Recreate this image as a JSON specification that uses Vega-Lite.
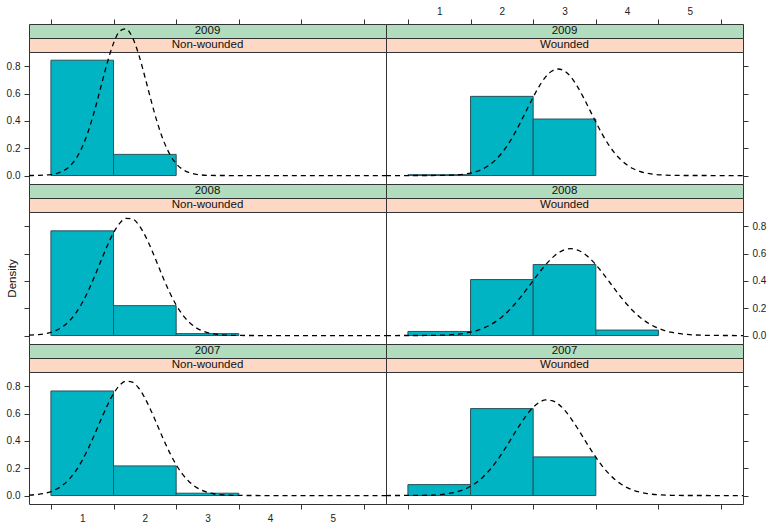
{
  "$schema": "https://vega.github.io/schema/vega-lite/v6.json",
  "background": "white",
  "padding": 5,
  "config": {
    "view": {"stroke": "#333", "strokeWidth": 1},
    "axis": {"domain": false, "grid": false, "tickColor": "#333", "tickSize": 5, "labelFont": "Liberation Sans", "labelFontSize": 10, "labelColor": "#222", "labelFlush": false, "labelOverlap": false, "titleFont": "Liberation Sans", "titleFontSize": 11.5, "titleFontWeight": "normal", "titleColor": "#111"},
    "text": {"font": "Liberation Sans", "fontSize": 11.5, "color": "#111"}
  },
  "datasets": {
    "bars": [
      {"year": 2009, "group": "Non-wounded", "lo": 0.5, "hi": 1.5, "density": 0.845},
      {"year": 2009, "group": "Non-wounded", "lo": 1.5, "hi": 2.5, "density": 0.155},
      {"year": 2009, "group": "Wounded", "lo": 0.5, "hi": 1.5, "density": 0.006},
      {"year": 2009, "group": "Wounded", "lo": 1.5, "hi": 2.5, "density": 0.58},
      {"year": 2009, "group": "Wounded", "lo": 2.5, "hi": 3.5, "density": 0.414},
      {"year": 2008, "group": "Non-wounded", "lo": 0.5, "hi": 1.5, "density": 0.767},
      {"year": 2008, "group": "Non-wounded", "lo": 1.5, "hi": 2.5, "density": 0.219},
      {"year": 2008, "group": "Non-wounded", "lo": 2.5, "hi": 3.5, "density": 0.014},
      {"year": 2008, "group": "Wounded", "lo": 0.5, "hi": 1.5, "density": 0.03},
      {"year": 2008, "group": "Wounded", "lo": 1.5, "hi": 2.5, "density": 0.41},
      {"year": 2008, "group": "Wounded", "lo": 2.5, "hi": 3.5, "density": 0.52},
      {"year": 2008, "group": "Wounded", "lo": 3.5, "hi": 4.5, "density": 0.04},
      {"year": 2007, "group": "Non-wounded", "lo": 0.5, "hi": 1.5, "density": 0.766},
      {"year": 2007, "group": "Non-wounded", "lo": 1.5, "hi": 2.5, "density": 0.217},
      {"year": 2007, "group": "Non-wounded", "lo": 2.5, "hi": 3.5, "density": 0.017},
      {"year": 2007, "group": "Wounded", "lo": 0.5, "hi": 1.5, "density": 0.08},
      {"year": 2007, "group": "Wounded", "lo": 1.5, "hi": 2.5, "density": 0.637},
      {"year": 2007, "group": "Wounded", "lo": 2.5, "hi": 3.5, "density": 0.283}
    ],
    "curve": [
      {"year": 2009, "group": "Non-wounded", "x": 0.15, "density": 0.0002},
      {"year": 2009, "group": "Non-wounded", "x": 0.3, "density": 0.0011},
      {"year": 2009, "group": "Non-wounded", "x": 0.4, "density": 0.003},
      {"year": 2009, "group": "Non-wounded", "x": 0.5, "density": 0.0073},
      {"year": 2009, "group": "Non-wounded", "x": 0.6, "density": 0.0165},
      {"year": 2009, "group": "Non-wounded", "x": 0.7, "density": 0.0347},
      {"year": 2009, "group": "Non-wounded", "x": 0.8, "density": 0.0679},
      {"year": 2009, "group": "Non-wounded", "x": 0.9, "density": 0.1237},
      {"year": 2009, "group": "Non-wounded", "x": 1.0, "density": 0.209},
      {"year": 2009, "group": "Non-wounded", "x": 1.1, "density": 0.329},
      {"year": 2009, "group": "Non-wounded", "x": 1.2, "density": 0.481},
      {"year": 2009, "group": "Non-wounded", "x": 1.3, "density": 0.654},
      {"year": 2009, "group": "Non-wounded", "x": 1.4, "density": 0.826},
      {"year": 2009, "group": "Non-wounded", "x": 1.5, "density": 0.970},
      {"year": 2009, "group": "Non-wounded", "x": 1.6, "density": 1.059},
      {"year": 2009, "group": "Non-wounded", "x": 1.7, "density": 1.074},
      {"year": 2009, "group": "Non-wounded", "x": 1.8, "density": 1.013},
      {"year": 2009, "group": "Non-wounded", "x": 1.9, "density": 0.889},
      {"year": 2009, "group": "Non-wounded", "x": 2.0, "density": 0.724},
      {"year": 2009, "group": "Non-wounded", "x": 2.1, "density": 0.549},
      {"year": 2009, "group": "Non-wounded", "x": 2.2, "density": 0.386},
      {"year": 2009, "group": "Non-wounded", "x": 2.3, "density": 0.253},
      {"year": 2009, "group": "Non-wounded", "x": 2.4, "density": 0.154},
      {"year": 2009, "group": "Non-wounded", "x": 2.5, "density": 0.0871},
      {"year": 2009, "group": "Non-wounded", "x": 2.6, "density": 0.0458},
      {"year": 2009, "group": "Non-wounded", "x": 2.7, "density": 0.0224},
      {"year": 2009, "group": "Non-wounded", "x": 2.8, "density": 0.0102},
      {"year": 2009, "group": "Non-wounded", "x": 2.9, "density": 0.0043},
      {"year": 2009, "group": "Non-wounded", "x": 3.0, "density": 0.0017},
      {"year": 2009, "group": "Non-wounded", "x": 3.2, "density": 0.0002},
      {"year": 2009, "group": "Non-wounded", "x": 3.5, "density": 0},
      {"year": 2009, "group": "Non-wounded", "x": 5.85, "density": 0},

      {"year": 2009, "group": "Wounded", "x": 0.15, "density": 0},
      {"year": 2009, "group": "Wounded", "x": 0.8, "density": 0.0002},
      {"year": 2009, "group": "Wounded", "x": 1.0, "density": 0.0008},
      {"year": 2009, "group": "Wounded", "x": 1.2, "density": 0.0031},
      {"year": 2009, "group": "Wounded", "x": 1.4, "density": 0.0105},
      {"year": 2009, "group": "Wounded", "x": 1.5, "density": 0.0183},
      {"year": 2009, "group": "Wounded", "x": 1.6, "density": 0.0307},
      {"year": 2009, "group": "Wounded", "x": 1.7, "density": 0.0495},
      {"year": 2009, "group": "Wounded", "x": 1.8, "density": 0.077},
      {"year": 2009, "group": "Wounded", "x": 1.9, "density": 0.115},
      {"year": 2009, "group": "Wounded", "x": 2.0, "density": 0.1655},
      {"year": 2009, "group": "Wounded", "x": 2.1, "density": 0.229},
      {"year": 2009, "group": "Wounded", "x": 2.2, "density": 0.3055},
      {"year": 2009, "group": "Wounded", "x": 2.3, "density": 0.392},
      {"year": 2009, "group": "Wounded", "x": 2.4, "density": 0.4837},
      {"year": 2009, "group": "Wounded", "x": 2.5, "density": 0.5746},
      {"year": 2009, "group": "Wounded", "x": 2.6, "density": 0.657},
      {"year": 2009, "group": "Wounded", "x": 2.7, "density": 0.723},
      {"year": 2009, "group": "Wounded", "x": 2.8, "density": 0.7658},
      {"year": 2009, "group": "Wounded", "x": 2.9, "density": 0.7806},
      {"year": 2009, "group": "Wounded", "x": 3.0, "density": 0.7658},
      {"year": 2009, "group": "Wounded", "x": 3.1, "density": 0.723},
      {"year": 2009, "group": "Wounded", "x": 3.2, "density": 0.657},
      {"year": 2009, "group": "Wounded", "x": 3.3, "density": 0.5746},
      {"year": 2009, "group": "Wounded", "x": 3.4, "density": 0.4837},
      {"year": 2009, "group": "Wounded", "x": 3.5, "density": 0.392},
      {"year": 2009, "group": "Wounded", "x": 3.6, "density": 0.3055},
      {"year": 2009, "group": "Wounded", "x": 3.7, "density": 0.229},
      {"year": 2009, "group": "Wounded", "x": 3.8, "density": 0.1655},
      {"year": 2009, "group": "Wounded", "x": 3.9, "density": 0.115},
      {"year": 2009, "group": "Wounded", "x": 4.0, "density": 0.077},
      {"year": 2009, "group": "Wounded", "x": 4.1, "density": 0.0495},
      {"year": 2009, "group": "Wounded", "x": 4.2, "density": 0.0307},
      {"year": 2009, "group": "Wounded", "x": 4.3, "density": 0.0183},
      {"year": 2009, "group": "Wounded", "x": 4.4, "density": 0.0105},
      {"year": 2009, "group": "Wounded", "x": 4.6, "density": 0.0031},
      {"year": 2009, "group": "Wounded", "x": 4.8, "density": 0.0008},
      {"year": 2009, "group": "Wounded", "x": 5.0, "density": 0.0002},
      {"year": 2009, "group": "Wounded", "x": 5.85, "density": 0},

      {"year": 2008, "group": "Non-wounded", "x": 0.15, "density": 0.0024},
      {"year": 2008, "group": "Non-wounded", "x": 0.3, "density": 0.0068},
      {"year": 2008, "group": "Non-wounded", "x": 0.4, "density": 0.0131},
      {"year": 2008, "group": "Non-wounded", "x": 0.5, "density": 0.0239},
      {"year": 2008, "group": "Non-wounded", "x": 0.6, "density": 0.0416},
      {"year": 2008, "group": "Non-wounded", "x": 0.7, "density": 0.0691},
      {"year": 2008, "group": "Non-wounded", "x": 0.8, "density": 0.1097},
      {"year": 2008, "group": "Non-wounded", "x": 0.9, "density": 0.1661},
      {"year": 2008, "group": "Non-wounded", "x": 1.0, "density": 0.2402},
      {"year": 2008, "group": "Non-wounded", "x": 1.1, "density": 0.3315},
      {"year": 2008, "group": "Non-wounded", "x": 1.2, "density": 0.4364},
      {"year": 2008, "group": "Non-wounded", "x": 1.3, "density": 0.5485},
      {"year": 2008, "group": "Non-wounded", "x": 1.4, "density": 0.6579},
      {"year": 2008, "group": "Non-wounded", "x": 1.5, "density": 0.7532},
      {"year": 2008, "group": "Non-wounded", "x": 1.6, "density": 0.8231},
      {"year": 2008, "group": "Non-wounded", "x": 1.7, "density": 0.8584},
      {"year": 2008, "group": "Non-wounded", "x": 1.8, "density": 0.8544},
      {"year": 2008, "group": "Non-wounded", "x": 1.9, "density": 0.8116},
      {"year": 2008, "group": "Non-wounded", "x": 2.0, "density": 0.7359},
      {"year": 2008, "group": "Non-wounded", "x": 2.1, "density": 0.6368},
      {"year": 2008, "group": "Non-wounded", "x": 2.2, "density": 0.5259},
      {"year": 2008, "group": "Non-wounded", "x": 2.3, "density": 0.4146},
      {"year": 2008, "group": "Non-wounded", "x": 2.4, "density": 0.3119},
      {"year": 2008, "group": "Non-wounded", "x": 2.5, "density": 0.2239},
      {"year": 2008, "group": "Non-wounded", "x": 2.6, "density": 0.1535},
      {"year": 2008, "group": "Non-wounded", "x": 2.7, "density": 0.1004},
      {"year": 2008, "group": "Non-wounded", "x": 2.8, "density": 0.0627},
      {"year": 2008, "group": "Non-wounded", "x": 2.9, "density": 0.0373},
      {"year": 2008, "group": "Non-wounded", "x": 3.0, "density": 0.0212},
      {"year": 2008, "group": "Non-wounded", "x": 3.1, "density": 0.0115},
      {"year": 2008, "group": "Non-wounded", "x": 3.2, "density": 0.006},
      {"year": 2008, "group": "Non-wounded", "x": 3.4, "density": 0.0014},
      {"year": 2008, "group": "Non-wounded", "x": 3.6, "density": 0.0003},
      {"year": 2008, "group": "Non-wounded", "x": 4.0, "density": 0},
      {"year": 2008, "group": "Non-wounded", "x": 5.85, "density": 0},

      {"year": 2008, "group": "Wounded", "x": 0.15, "density": 0},
      {"year": 2008, "group": "Wounded", "x": 0.7, "density": 0.0004},
      {"year": 2008, "group": "Wounded", "x": 0.9, "density": 0.0013},
      {"year": 2008, "group": "Wounded", "x": 1.1, "density": 0.0039},
      {"year": 2008, "group": "Wounded", "x": 1.2, "density": 0.0065},
      {"year": 2008, "group": "Wounded", "x": 1.3, "density": 0.0103},
      {"year": 2008, "group": "Wounded", "x": 1.4, "density": 0.0161},
      {"year": 2008, "group": "Wounded", "x": 1.5, "density": 0.0245},
      {"year": 2008, "group": "Wounded", "x": 1.6, "density": 0.0364},
      {"year": 2008, "group": "Wounded", "x": 1.7, "density": 0.0526},
      {"year": 2008, "group": "Wounded", "x": 1.8, "density": 0.0742},
      {"year": 2008, "group": "Wounded", "x": 1.9, "density": 0.1019},
      {"year": 2008, "group": "Wounded", "x": 2.0, "density": 0.1365},
      {"year": 2008, "group": "Wounded", "x": 2.1, "density": 0.1783},
      {"year": 2008, "group": "Wounded", "x": 2.2, "density": 0.2271},
      {"year": 2008, "group": "Wounded", "x": 2.3, "density": 0.2819},
      {"year": 2008, "group": "Wounded", "x": 2.4, "density": 0.3411},
      {"year": 2008, "group": "Wounded", "x": 2.5, "density": 0.4025},
      {"year": 2008, "group": "Wounded", "x": 2.6, "density": 0.4629},
      {"year": 2008, "group": "Wounded", "x": 2.7, "density": 0.5191},
      {"year": 2008, "group": "Wounded", "x": 2.8, "density": 0.5674},
      {"year": 2008, "group": "Wounded", "x": 2.9, "density": 0.6047},
      {"year": 2008, "group": "Wounded", "x": 3.0, "density": 0.6282},
      {"year": 2008, "group": "Wounded", "x": 3.1, "density": 0.6362},
      {"year": 2008, "group": "Wounded", "x": 3.2, "density": 0.6282},
      {"year": 2008, "group": "Wounded", "x": 3.3, "density": 0.6047},
      {"year": 2008, "group": "Wounded", "x": 3.4, "density": 0.5674},
      {"year": 2008, "group": "Wounded", "x": 3.5, "density": 0.5191},
      {"year": 2008, "group": "Wounded", "x": 3.6, "density": 0.4629},
      {"year": 2008, "group": "Wounded", "x": 3.7, "density": 0.4025},
      {"year": 2008, "group": "Wounded", "x": 3.8, "density": 0.3411},
      {"year": 2008, "group": "Wounded", "x": 3.9, "density": 0.2819},
      {"year": 2008, "group": "Wounded", "x": 4.0, "density": 0.2271},
      {"year": 2008, "group": "Wounded", "x": 4.1, "density": 0.1783},
      {"year": 2008, "group": "Wounded", "x": 4.2, "density": 0.1365},
      {"year": 2008, "group": "Wounded", "x": 4.3, "density": 0.1019},
      {"year": 2008, "group": "Wounded", "x": 4.4, "density": 0.0742},
      {"year": 2008, "group": "Wounded", "x": 4.5, "density": 0.0526},
      {"year": 2008, "group": "Wounded", "x": 4.6, "density": 0.0364},
      {"year": 2008, "group": "Wounded", "x": 4.7, "density": 0.0245},
      {"year": 2008, "group": "Wounded", "x": 4.8, "density": 0.0161},
      {"year": 2008, "group": "Wounded", "x": 4.9, "density": 0.0103},
      {"year": 2008, "group": "Wounded", "x": 5.0, "density": 0.0065},
      {"year": 2008, "group": "Wounded", "x": 5.1, "density": 0.0039},
      {"year": 2008, "group": "Wounded", "x": 5.3, "density": 0.0013},
      {"year": 2008, "group": "Wounded", "x": 5.5, "density": 0.0004},
      {"year": 2008, "group": "Wounded", "x": 5.85, "density": 0},

      {"year": 2007, "group": "Non-wounded", "x": 0.15, "density": 0.0033},
      {"year": 2007, "group": "Non-wounded", "x": 0.3, "density": 0.009},
      {"year": 2007, "group": "Non-wounded", "x": 0.4, "density": 0.0167},
      {"year": 2007, "group": "Non-wounded", "x": 0.5, "density": 0.0294},
      {"year": 2007, "group": "Non-wounded", "x": 0.6, "density": 0.0495},
      {"year": 2007, "group": "Non-wounded", "x": 0.7, "density": 0.08},
      {"year": 2007, "group": "Non-wounded", "x": 0.8, "density": 0.1235},
      {"year": 2007, "group": "Non-wounded", "x": 0.9, "density": 0.1825},
      {"year": 2007, "group": "Non-wounded", "x": 1.0, "density": 0.2578},
      {"year": 2007, "group": "Non-wounded", "x": 1.1, "density": 0.3485},
      {"year": 2007, "group": "Non-wounded", "x": 1.2, "density": 0.4506},
      {"year": 2007, "group": "Non-wounded", "x": 1.3, "density": 0.5575},
      {"year": 2007, "group": "Non-wounded", "x": 1.4, "density": 0.6597},
      {"year": 2007, "group": "Non-wounded", "x": 1.5, "density": 0.7469},
      {"year": 2007, "group": "Non-wounded", "x": 1.6, "density": 0.8089},
      {"year": 2007, "group": "Non-wounded", "x": 1.7, "density": 0.8381},
      {"year": 2007, "group": "Non-wounded", "x": 1.8, "density": 0.8307},
      {"year": 2007, "group": "Non-wounded", "x": 1.9, "density": 0.7877},
      {"year": 2007, "group": "Non-wounded", "x": 2.0, "density": 0.7145},
      {"year": 2007, "group": "Non-wounded", "x": 2.1, "density": 0.62},
      {"year": 2007, "group": "Non-wounded", "x": 2.2, "density": 0.5148},
      {"year": 2007, "group": "Non-wounded", "x": 2.3, "density": 0.4088},
      {"year": 2007, "group": "Non-wounded", "x": 2.4, "density": 0.3106},
      {"year": 2007, "group": "Non-wounded", "x": 2.5, "density": 0.2257},
      {"year": 2007, "group": "Non-wounded", "x": 2.6, "density": 0.157},
      {"year": 2007, "group": "Non-wounded", "x": 2.7, "density": 0.1044},
      {"year": 2007, "group": "Non-wounded", "x": 2.8, "density": 0.0664},
      {"year": 2007, "group": "Non-wounded", "x": 2.9, "density": 0.0404},
      {"year": 2007, "group": "Non-wounded", "x": 3.0, "density": 0.0235},
      {"year": 2007, "group": "Non-wounded", "x": 3.1, "density": 0.0131},
      {"year": 2007, "group": "Non-wounded", "x": 3.2, "density": 0.007},
      {"year": 2007, "group": "Non-wounded", "x": 3.4, "density": 0.0017},
      {"year": 2007, "group": "Non-wounded", "x": 3.6, "density": 0.0004},
      {"year": 2007, "group": "Non-wounded", "x": 4.0, "density": 0},
      {"year": 2007, "group": "Non-wounded", "x": 5.85, "density": 0},

      {"year": 2007, "group": "Wounded", "x": 0.15, "density": 0},
      {"year": 2007, "group": "Wounded", "x": 0.8, "density": 0.0022},
      {"year": 2007, "group": "Wounded", "x": 1.0, "density": 0.0069},
      {"year": 2007, "group": "Wounded", "x": 1.1, "density": 0.0116},
      {"year": 2007, "group": "Wounded", "x": 1.2, "density": 0.0189},
      {"year": 2007, "group": "Wounded", "x": 1.3, "density": 0.0298},
      {"year": 2007, "group": "Wounded", "x": 1.4, "density": 0.0456},
      {"year": 2007, "group": "Wounded", "x": 1.5, "density": 0.0678},
      {"year": 2007, "group": "Wounded", "x": 1.6, "density": 0.0976},
      {"year": 2007, "group": "Wounded", "x": 1.7, "density": 0.1362},
      {"year": 2007, "group": "Wounded", "x": 1.8, "density": 0.1843},
      {"year": 2007, "group": "Wounded", "x": 1.9, "density": 0.242},
      {"year": 2007, "group": "Wounded", "x": 2.0, "density": 0.3079},
      {"year": 2007, "group": "Wounded", "x": 2.1, "density": 0.3798},
      {"year": 2007, "group": "Wounded", "x": 2.2, "density": 0.4544},
      {"year": 2007, "group": "Wounded", "x": 2.3, "density": 0.527},
      {"year": 2007, "group": "Wounded", "x": 2.4, "density": 0.5926},
      {"year": 2007, "group": "Wounded", "x": 2.5, "density": 0.6461},
      {"year": 2007, "group": "Wounded", "x": 2.6, "density": 0.683},
      {"year": 2007, "group": "Wounded", "x": 2.7, "density": 0.7001},
      {"year": 2007, "group": "Wounded", "x": 2.8, "density": 0.6958},
      {"year": 2007, "group": "Wounded", "x": 2.9, "density": 0.6705},
      {"year": 2007, "group": "Wounded", "x": 3.0, "density": 0.6264},
      {"year": 2007, "group": "Wounded", "x": 3.1, "density": 0.5675},
      {"year": 2007, "group": "Wounded", "x": 3.2, "density": 0.4984},
      {"year": 2007, "group": "Wounded", "x": 3.3, "density": 0.4244},
      {"year": 2007, "group": "Wounded", "x": 3.4, "density": 0.3505},
      {"year": 2007, "group": "Wounded", "x": 3.5, "density": 0.2806},
      {"year": 2007, "group": "Wounded", "x": 3.6, "density": 0.2178},
      {"year": 2007, "group": "Wounded", "x": 3.7, "density": 0.1639},
      {"year": 2007, "group": "Wounded", "x": 3.8, "density": 0.1197},
      {"year": 2007, "group": "Wounded", "x": 3.9, "density": 0.0846},
      {"year": 2007, "group": "Wounded", "x": 4.0, "density": 0.058},
      {"year": 2007, "group": "Wounded", "x": 4.1, "density": 0.0386},
      {"year": 2007, "group": "Wounded", "x": 4.2, "density": 0.0249},
      {"year": 2007, "group": "Wounded", "x": 4.3, "density": 0.0156},
      {"year": 2007, "group": "Wounded", "x": 4.4, "density": 0.0094},
      {"year": 2007, "group": "Wounded", "x": 4.5, "density": 0.0056},
      {"year": 2007, "group": "Wounded", "x": 4.7, "density": 0.0018},
      {"year": 2007, "group": "Wounded", "x": 5.0, "density": 0.0002},
      {"year": 2007, "group": "Wounded", "x": 5.85, "density": 0}
    ]
  },
  "columns": 2,
  "spacing": 0,
  "bounds": "flush",
  "align": "each",
  "concat": [
    {"width": 357, "height": 14, "data": {"values": [{"label": "2009"}]}, "view": {"fill": "#b2dcbe", "stroke": "#333"},
     "mark": {"type": "text"},
     "encoding": {"text": {"field": "label"},
       "x": {"datum": 3, "type": "quantitative", "scale": {"domain": [0.15, 5.85], "nice": false, "zero": false},
             "axis": {"orient": "top", "values": [0.5, 1, 1.5, 2, 2.5, 3, 3.5, 4, 4.5, 5, 5.5], "labels": false, "title": null,
                      "tickOpacity": {"condition": {"test": "datum.value % 1 === 0", "value": 0}, "value": 1}}}}},
    {"width": 357, "height": 14, "data": {"values": [{"label": "2009"}]}, "view": {"fill": "#b2dcbe", "stroke": "#333"},
     "mark": {"type": "text"},
     "encoding": {"text": {"field": "label"},
       "x": {"datum": 3, "type": "quantitative", "scale": {"domain": [0.15, 5.85], "nice": false, "zero": false},
             "axis": {"orient": "top", "values": [0.5, 1, 1.5, 2, 2.5, 3, 3.5, 4, 4.5, 5, 5.5], "title": null, "labelPadding": 3,
                      "labelExpr": "datum.value % 1 === 0 ? format(datum.value, 'd') : ''",
                      "tickOpacity": {"condition": {"test": "datum.value % 1 === 0", "value": 0}, "value": 1}}}}},
    {"width": 357, "height": 14, "data": {"values": [{"label": "Non-wounded"}]}, "view": {"fill": "#fdd8c4", "stroke": "#333"},
     "mark": {"type": "text"}, "encoding": {"text": {"field": "label"}}},
    {"width": 357, "height": 14, "data": {"values": [{"label": "Wounded"}]}, "view": {"fill": "#fdd8c4", "stroke": "#333"},
     "mark": {"type": "text"}, "encoding": {"text": {"field": "label"}}},
    {"width": 357, "height": 132, "view": {"stroke": "#333"},
     "layer": [
       {"data": {"name": "bars"}, "transform": [{"filter": "datum.year == 2009 && datum.group == 'Non-wounded'"}],
        "mark": {"type": "rect", "fill": "#00b4c4", "stroke": "#2a5258", "strokeWidth": 1},
        "encoding": {
          "x": {"field": "lo", "type": "quantitative", "scale": {"domain": [0.15, 5.85], "nice": false, "zero": false}, "axis": null},
          "x2": {"field": "hi"},
          "y": {"field": "density", "type": "quantitative", "scale": {"domain": [-0.062, 0.905], "nice": false, "zero": false},
                "axis": {"orient": "left", "values": [0, 0.2, 0.4, 0.6, 0.8], "format": ".1f", "labelPadding": 4, "title": null}},
          "y2": {"datum": 0}}},
       {"data": {"name": "curve"}, "transform": [{"filter": "datum.year == 2009 && datum.group == 'Non-wounded'"}],
        "mark": {"type": "line", "color": "#000", "strokeWidth": 1.3, "strokeDash": [5, 4], "interpolate": "monotone", "clip": false},
        "encoding": {
          "x": {"field": "x", "type": "quantitative", "scale": {"domain": [0.15, 5.85], "nice": false, "zero": false}, "axis": null},
          "y": {"field": "density", "type": "quantitative", "scale": {"domain": [-0.062, 0.905], "nice": false, "zero": false},
                "axis": {"orient": "left", "values": [0, 0.2, 0.4, 0.6, 0.8], "format": ".1f", "labelPadding": 4, "title": null}}}}
     ]},
    {"width": 357, "height": 132, "view": {"stroke": "#333"},
     "layer": [
       {"data": {"name": "bars"}, "transform": [{"filter": "datum.year == 2009 && datum.group == 'Wounded'"}],
        "mark": {"type": "rect", "fill": "#00b4c4", "stroke": "#2a5258", "strokeWidth": 1},
        "encoding": {
          "x": {"field": "lo", "type": "quantitative", "scale": {"domain": [0.15, 5.85], "nice": false, "zero": false}, "axis": null},
          "x2": {"field": "hi"},
          "y": {"field": "density", "type": "quantitative", "scale": {"domain": [-0.062, 0.905], "nice": false, "zero": false},
                "axis": {"orient": "right", "values": [0, 0.2, 0.4, 0.6, 0.8], "labels": false, "title": null}},
          "y2": {"datum": 0}}},
       {"data": {"name": "curve"}, "transform": [{"filter": "datum.year == 2009 && datum.group == 'Wounded'"}],
        "mark": {"type": "line", "color": "#000", "strokeWidth": 1.3, "strokeDash": [5, 4], "interpolate": "monotone", "clip": false},
        "encoding": {
          "x": {"field": "x", "type": "quantitative", "scale": {"domain": [0.15, 5.85], "nice": false, "zero": false}, "axis": null},
          "y": {"field": "density", "type": "quantitative", "scale": {"domain": [-0.062, 0.905], "nice": false, "zero": false},
                "axis": {"orient": "right", "values": [0, 0.2, 0.4, 0.6, 0.8], "labels": false, "title": null}}}}
     ]},

    {"width": 357, "height": 14, "data": {"values": [{"label": "2008"}]}, "view": {"fill": "#b2dcbe", "stroke": "#333"},
     "mark": {"type": "text"}, "encoding": {"text": {"field": "label"}}},
    {"width": 357, "height": 14, "data": {"values": [{"label": "2008"}]}, "view": {"fill": "#b2dcbe", "stroke": "#333"},
     "mark": {"type": "text"}, "encoding": {"text": {"field": "label"}}},
    {"width": 357, "height": 14, "data": {"values": [{"label": "Non-wounded"}]}, "view": {"fill": "#fdd8c4", "stroke": "#333"},
     "mark": {"type": "text"}, "encoding": {"text": {"field": "label"}}},
    {"width": 357, "height": 14, "data": {"values": [{"label": "Wounded"}]}, "view": {"fill": "#fdd8c4", "stroke": "#333"},
     "mark": {"type": "text"}, "encoding": {"text": {"field": "label"}}},
    {"width": 357, "height": 132, "view": {"stroke": "#333"},
     "layer": [
       {"data": {"name": "bars"}, "transform": [{"filter": "datum.year == 2008 && datum.group == 'Non-wounded'"}],
        "mark": {"type": "rect", "fill": "#00b4c4", "stroke": "#2a5258", "strokeWidth": 1},
        "encoding": {
          "x": {"field": "lo", "type": "quantitative", "scale": {"domain": [0.15, 5.85], "nice": false, "zero": false}, "axis": null},
          "x2": {"field": "hi"},
          "y": {"field": "density", "type": "quantitative", "scale": {"domain": [-0.062, 0.905], "nice": false, "zero": false},
                "axis": {"orient": "left", "values": [0, 0.2, 0.4, 0.6, 0.8], "labels": false, "title": "Density", "titlePadding": 6.5}},
          "y2": {"datum": 0}}},
       {"data": {"name": "curve"}, "transform": [{"filter": "datum.year == 2008 && datum.group == 'Non-wounded'"}],
        "mark": {"type": "line", "color": "#000", "strokeWidth": 1.3, "strokeDash": [5, 4], "interpolate": "monotone", "clip": false},
        "encoding": {
          "x": {"field": "x", "type": "quantitative", "scale": {"domain": [0.15, 5.85], "nice": false, "zero": false}, "axis": null},
          "y": {"field": "density", "type": "quantitative", "scale": {"domain": [-0.062, 0.905], "nice": false, "zero": false},
                "axis": {"orient": "left", "values": [0, 0.2, 0.4, 0.6, 0.8], "labels": false, "title": "Density", "titlePadding": 6.5}}}}
     ]},
    {"width": 357, "height": 132, "view": {"stroke": "#333"},
     "layer": [
       {"data": {"name": "bars"}, "transform": [{"filter": "datum.year == 2008 && datum.group == 'Wounded'"}],
        "mark": {"type": "rect", "fill": "#00b4c4", "stroke": "#2a5258", "strokeWidth": 1},
        "encoding": {
          "x": {"field": "lo", "type": "quantitative", "scale": {"domain": [0.15, 5.85], "nice": false, "zero": false}, "axis": null},
          "x2": {"field": "hi"},
          "y": {"field": "density", "type": "quantitative", "scale": {"domain": [-0.062, 0.905], "nice": false, "zero": false},
                "axis": {"orient": "right", "values": [0, 0.2, 0.4, 0.6, 0.8], "format": ".1f", "labelPadding": 4, "title": null}},
          "y2": {"datum": 0}}},
       {"data": {"name": "curve"}, "transform": [{"filter": "datum.year == 2008 && datum.group == 'Wounded'"}],
        "mark": {"type": "line", "color": "#000", "strokeWidth": 1.3, "strokeDash": [5, 4], "interpolate": "monotone", "clip": false},
        "encoding": {
          "x": {"field": "x", "type": "quantitative", "scale": {"domain": [0.15, 5.85], "nice": false, "zero": false}, "axis": null},
          "y": {"field": "density", "type": "quantitative", "scale": {"domain": [-0.062, 0.905], "nice": false, "zero": false},
                "axis": {"orient": "right", "values": [0, 0.2, 0.4, 0.6, 0.8], "format": ".1f", "labelPadding": 4, "title": null}}}}
     ]},

    {"width": 357, "height": 14, "data": {"values": [{"label": "2007"}]}, "view": {"fill": "#b2dcbe", "stroke": "#333"},
     "mark": {"type": "text"}, "encoding": {"text": {"field": "label"}}},
    {"width": 357, "height": 14, "data": {"values": [{"label": "2007"}]}, "view": {"fill": "#b2dcbe", "stroke": "#333"},
     "mark": {"type": "text"}, "encoding": {"text": {"field": "label"}}},
    {"width": 357, "height": 14, "data": {"values": [{"label": "Non-wounded"}]}, "view": {"fill": "#fdd8c4", "stroke": "#333"},
     "mark": {"type": "text"}, "encoding": {"text": {"field": "label"}}},
    {"width": 357, "height": 14, "data": {"values": [{"label": "Wounded"}]}, "view": {"fill": "#fdd8c4", "stroke": "#333"},
     "mark": {"type": "text"}, "encoding": {"text": {"field": "label"}}},
    {"width": 357, "height": 132, "view": {"stroke": "#333"},
     "layer": [
       {"data": {"name": "bars"}, "transform": [{"filter": "datum.year == 2007 && datum.group == 'Non-wounded'"}],
        "mark": {"type": "rect", "fill": "#00b4c4", "stroke": "#2a5258", "strokeWidth": 1},
        "encoding": {
          "x": {"field": "lo", "type": "quantitative", "scale": {"domain": [0.15, 5.85], "nice": false, "zero": false},
                "axis": {"orient": "bottom", "values": [0.5, 1, 1.5, 2, 2.5, 3, 3.5, 4, 4.5, 5, 5.5], "title": null, "labelPadding": 4,
                         "labelExpr": "datum.value % 1 === 0 ? format(datum.value, 'd') : ''",
                         "tickOpacity": {"condition": {"test": "datum.value % 1 === 0", "value": 0}, "value": 1}}},
          "x2": {"field": "hi"},
          "y": {"field": "density", "type": "quantitative", "scale": {"domain": [-0.062, 0.905], "nice": false, "zero": false},
                "axis": {"orient": "left", "values": [0, 0.2, 0.4, 0.6, 0.8], "format": ".1f", "labelPadding": 4, "title": null}},
          "y2": {"datum": 0}}},
       {"data": {"name": "curve"}, "transform": [{"filter": "datum.year == 2007 && datum.group == 'Non-wounded'"}],
        "mark": {"type": "line", "color": "#000", "strokeWidth": 1.3, "strokeDash": [5, 4], "interpolate": "monotone", "clip": false},
        "encoding": {
          "x": {"field": "x", "type": "quantitative", "scale": {"domain": [0.15, 5.85], "nice": false, "zero": false},
                "axis": {"orient": "bottom", "values": [0.5, 1, 1.5, 2, 2.5, 3, 3.5, 4, 4.5, 5, 5.5], "title": null, "labelPadding": 4,
                         "labelExpr": "datum.value % 1 === 0 ? format(datum.value, 'd') : ''",
                         "tickOpacity": {"condition": {"test": "datum.value % 1 === 0", "value": 0}, "value": 1}}},
          "y": {"field": "density", "type": "quantitative", "scale": {"domain": [-0.062, 0.905], "nice": false, "zero": false},
                "axis": {"orient": "left", "values": [0, 0.2, 0.4, 0.6, 0.8], "format": ".1f", "labelPadding": 4, "title": null}}}}
     ]},
    {"width": 357, "height": 132, "view": {"stroke": "#333"},
     "layer": [
       {"data": {"name": "bars"}, "transform": [{"filter": "datum.year == 2007 && datum.group == 'Wounded'"}],
        "mark": {"type": "rect", "fill": "#00b4c4", "stroke": "#2a5258", "strokeWidth": 1},
        "encoding": {
          "x": {"field": "lo", "type": "quantitative", "scale": {"domain": [0.15, 5.85], "nice": false, "zero": false},
                "axis": {"orient": "bottom", "values": [0.5, 1, 1.5, 2, 2.5, 3, 3.5, 4, 4.5, 5, 5.5], "title": null, "labels": false,
                         "tickOpacity": {"condition": {"test": "datum.value % 1 === 0", "value": 0}, "value": 1}}},
          "x2": {"field": "hi"},
          "y": {"field": "density", "type": "quantitative", "scale": {"domain": [-0.062, 0.905], "nice": false, "zero": false},
                "axis": {"orient": "right", "values": [0, 0.2, 0.4, 0.6, 0.8], "labels": false, "title": null}},
          "y2": {"datum": 0}}},
       {"data": {"name": "curve"}, "transform": [{"filter": "datum.year == 2007 && datum.group == 'Wounded'"}],
        "mark": {"type": "line", "color": "#000", "strokeWidth": 1.3, "strokeDash": [5, 4], "interpolate": "monotone", "clip": false},
        "encoding": {
          "x": {"field": "x", "type": "quantitative", "scale": {"domain": [0.15, 5.85], "nice": false, "zero": false},
                "axis": {"orient": "bottom", "values": [0.5, 1, 1.5, 2, 2.5, 3, 3.5, 4, 4.5, 5, 5.5], "title": null, "labels": false,
                         "tickOpacity": {"condition": {"test": "datum.value % 1 === 0", "value": 0}, "value": 1}}},
          "y": {"field": "density", "type": "quantitative", "scale": {"domain": [-0.062, 0.905], "nice": false, "zero": false},
                "axis": {"orient": "right", "values": [0, 0.2, 0.4, 0.6, 0.8], "labels": false, "title": null}}}}
     ]}
  ]
}
